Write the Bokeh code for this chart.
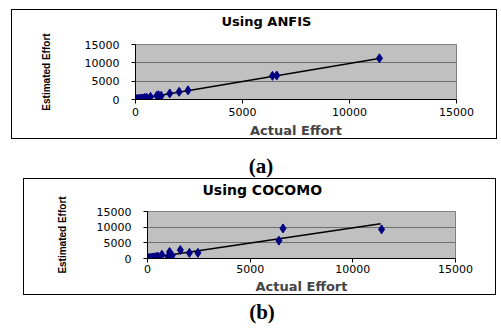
from bokeh.plotting import figure
from bokeh.models import Range1d, FixedTicker, Div, Title, LinearAxis
from bokeh.layouts import column
from bokeh.embed import file_html
from bokeh.resources import INLINE

# ---- data ----
actual_effort = [10, 30, 50, 80, 120, 200, 240, 320, 420, 520, 700, 1000, 1075, 1200, 1600, 2040, 2455, 6400, 6600, 11400]
anfis_estimate = [15, 35, 60, 70, 140, 190, 260, 300, 450, 500, 720, 1050, 1150, 1000, 1650, 2100, 2500, 6450, 6550, 11250]
cocomo_estimate = [20, 40, 50, 90, 150, 250, 300, 350, 500, 600, 1200, 600, 2100, 900, 2700, 1800, 1800, 5700, 9600, 9300]
anfis_trend_x = [0, 11450]
anfis_trend_y = [0, 11250]
cocomo_trend_x = [0, 11350]
cocomo_trend_y = [100, 11100]
axis_ticks = [0, 5000, 10000, 15000]
titles = ["Using ANFIS", "Using COCOMO"]
captions = ["(a)", "(b)"]
x_label = "Actual Effort"
y_label = "Estimated Effort"

TICK_FONT = "DejaVu Sans"
BOLD_FONT = "DejaVu Sans"


def make_chart(title, est, tx, ty, width, height, mb, margin, title_size, title_offset,
               title_gap, xl_standoff, xlab_standoff, ylab_standoff, ylab_bounds=None):
    p = figure(width=width, height=height, output_backend="svg", toolbar_location=None,
               x_range=Range1d(0, 15000), y_range=Range1d(0, 15000),
               min_border_left=mb[0], min_border_right=mb[1], min_border_top=mb[2], min_border_bottom=mb[3],
               margin=margin, background_fill_color="#C0C0C0", border_fill_color="white",
               styles={"border": "1.5px solid black"})
    p.title.text = ""
    # spacer between frame and title, then the title itself
    p.add_layout(Title(text=" ", text_font_size="1px", standoff=title_gap), "above")
    p.add_layout(Title(text=title, align="left", offset=title_offset, standoff=0,
                       text_font=BOLD_FONT, text_font_style="bold", text_font_size=title_size,
                       text_color="black"), "above")
    p.outline_line_color = "#808080"
    p.outline_line_width = 1
    p.xgrid.visible = False
    p.ygrid.grid_line_color = "#707070"
    p.ygrid.grid_line_width = 1
    for ax in (p.xaxis[0], p.yaxis[0]):
        ax.ticker = FixedTicker(ticks=axis_ticks)
        ax.minor_tick_line_color = None
        ax.major_tick_in = 0
        ax.major_tick_out = 4
        ax.axis_line_color = "black"
        ax.major_tick_line_color = "black"
        ax.major_label_text_font = TICK_FONT
        ax.major_label_text_font_size = "11px"
        ax.major_label_text_color = "black"
    p.xaxis[0].major_label_standoff = xl_standoff
    p.yaxis[0].major_label_standoff = 12
    p.xaxis[0].axis_label = x_label
    p.xaxis[0].axis_label_text_font = BOLD_FONT
    p.xaxis[0].axis_label_text_font_style = "bold"
    p.xaxis[0].axis_label_text_font_size = "13px"
    p.xaxis[0].axis_label_standoff = xlab_standoff
    lab_kw = dict(axis_label=y_label, axis_label_text_font="Liberation Sans",
                  axis_label_text_font_style="bold", axis_label_text_font_size="10px",
                  axis_label_text_color="black")
    if ylab_bounds is None:
        p.yaxis[0].update(axis_label_standoff=ylab_standoff, **lab_kw)
    else:
        lab_axis = LinearAxis(bounds=ylab_bounds, ticker=FixedTicker(ticks=[]),
                              axis_line_color=None, major_tick_line_color=None,
                              minor_tick_line_color=None, major_label_text_font_size="0px",
                              axis_label_standoff=ylab_standoff, **lab_kw)
        p.add_layout(lab_axis, "left")
    p.line(tx, ty, line_color="black", line_width=1.5)
    p.scatter(actual_effort, est, marker="diamond", size=9, fill_color="#000080", line_color="#000080")
    return p


pa = make_chart(titles[0], anfis_estimate, anfis_trend_x, anfis_trend_y,
                486, 130, (122, 30, 34, 40), (9, 0, 0, 11), "13px", 86, 13, 4, 4, 30,
                ylab_bounds=(7500, 15000))
pb = make_chart(titles[1], cocomo_estimate, cocomo_trend_x, cocomo_trend_y,
                473, 117, (123, 42, 31, 36), (0, 0, 0, 23), "14px", 55, 11, 2, 3, 26)

cap_style = {"font-family": "Liberation Serif", "font-weight": "bold", "font-size": "21px",
             "text-align": "center", "line-height": "20px", "color": "black"}
da = Div(text=captions[0], width=478, height=39, margin=(0, 0, 0, 22),
         styles=dict(cap_style, **{"padding-top": "17px"}))
db = Div(text=captions[1], width=462, height=30, margin=(0, 0, 0, 31),
         styles=dict(cap_style, **{"padding-top": "7px"}))

layout = column(pa, da, pb, db, spacing=0)
open("out.html", "w").write(file_html(layout, INLINE))
